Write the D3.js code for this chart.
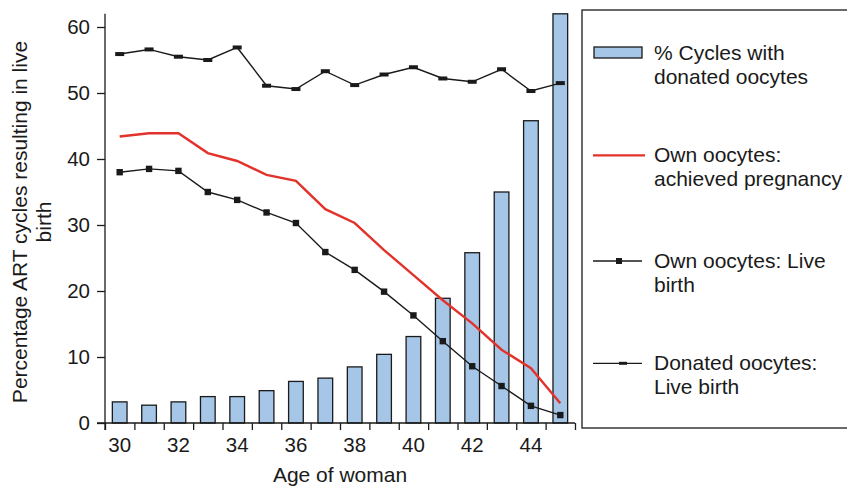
<!DOCTYPE html>
<html>
<head>
<meta charset="utf-8">
<script src="https://cdn.jsdelivr.net/npm/d3@7"></script>
<style>
  html, body { margin: 0; padding: 0; background: #fff; }
  svg { display: block; }
  text { font-family: "Liberation Sans", Arial, sans-serif; fill: #1a1a1a; }
</style>
</head>
<body>
<svg id="chart" width="847" height="487"></svg>
<script>
// ---- Data ----
const ages = [30, 31, 32, 33, 34, 35, 36, 37, 38, 39, 40, 41, 42, 43, 44, 45];
const donatedCyclesPct = [3.2, 2.7, 3.2, 4.0, 4.0, 4.9, 6.3, 6.8, 8.5, 10.4, 13.1, 18.9, 25.8, 35.0, 45.8, 62.0];
const ownPregnancy = [43.4, 43.9, 43.9, 40.9, 39.7, 37.6, 36.7, 32.4, 30.3, 26.2, 22.4, 18.6, 15.1, 11.1, 8.3, 3.0];
const ownLiveBirth = [38.0, 38.5, 38.2, 35.0, 33.8, 31.9, 30.3, 25.9, 23.2, 19.9, 16.3, 12.4, 8.6, 5.6, 2.6, 1.2];
const donatedLiveBirth = [55.9, 56.6, 55.5, 55.0, 56.9, 51.1, 50.6, 53.3, 51.2, 52.8, 53.9, 52.2, 51.7, 53.6, 50.3, 51.5];
const yTicks = [0, 10, 20, 30, 40, 50, 60];
const xTickLabels = [30, 32, 34, 36, 38, 40, 42, 44];
const legendItems = [
  { type: "bar", lines: ["% Cycles with", "donated oocytes"] },
  { type: "red", lines: ["Own oocytes:", "achieved pregnancy"] },
  { type: "square", lines: ["Own oocytes: Live", "birth"] },
  { type: "dash", lines: ["Donated oocytes:", "Live birth"] }
];
const yTitle = ["Percentage ART cycles resulting in live", "birth"];
const xTitle = "Age of woman";

// ---- Layout ----
const svg = d3.select("#chart");
const FS = "21px", TFS = "20.5px";
const left = 105, right = 575, bottom = 423;
const barColor = "#a6c6e8", redColor = "#e3322b", ink = "#1a1a1a";

const x = d3.scaleBand().domain(ages).range([left, right]).paddingInner(0.5).paddingOuter(0.25);
const xEdge = d3.scaleLinear().domain([29.5, 45.5]).range([left, right]);
const y = d3.scaleLinear().domain([0, 62]).range([bottom, bottom - 62 * 6.6]);
const cx = a => x(a) + x.bandwidth() / 2;

// Bars
svg.append("g").selectAll("rect").data(ages).join("rect")
  .attr("x", a => x(a)).attr("width", x.bandwidth())
  .attr("y", (a, i) => y(donatedCyclesPct[i]))
  .attr("height", (a, i) => y(0) - y(donatedCyclesPct[i]))
  .attr("fill", barColor).attr("stroke", ink).attr("stroke-width", 1.3);

const line = d3.line().x(d => cx(d[0])).y(d => y(d[1]));

// Donated live birth
const dData = ages.map((a, i) => [a, donatedLiveBirth[i]]);
svg.append("path").attr("d", line(dData)).attr("fill", "none").attr("stroke", ink).attr("stroke-width", 1.4);
svg.append("g").selectAll("rect").data(dData).join("rect")
  .attr("x", d => cx(d[0]) - 4.5).attr("y", d => y(d[1]) - 2)
  .attr("width", 9).attr("height", 4).attr("fill", ink);

// Red line
const rData = ages.map((a, i) => [a, ownPregnancy[i]]);
svg.append("path").attr("d", line(rData)).attr("fill", "none").attr("stroke", redColor).attr("stroke-width", 2.4);

// Own live birth
const oData = ages.map((a, i) => [a, ownLiveBirth[i]]);
svg.append("path").attr("d", line(oData)).attr("fill", "none").attr("stroke", ink).attr("stroke-width", 1.4);
svg.append("g").selectAll("rect").data(oData).join("rect")
  .attr("x", d => cx(d[0]) - 3.2).attr("y", d => y(d[1]) - 3.2)
  .attr("width", 6.4).attr("height", 6.4).attr("fill", ink);

// Axes
const yAxis = svg.append("g").attr("transform", `translate(${left},0)`)
  .call(d3.axisLeft(y).tickValues(yTicks).tickSize(8).tickPadding(7));
yAxis.select(".domain").remove();
yAxis.selectAll("line").attr("stroke", ink).attr("stroke-width", 1.3);
yAxis.selectAll("text").style("font-size", TFS).style("font-family", "Liberation Sans, Arial, sans-serif").attr("fill", ink);

const xTicksG = svg.append("g").attr("transform", `translate(0,${bottom})`)
  .call(d3.axisBottom(xEdge).tickValues(d3.range(29.5, 45.6, 1)).tickSize(7).tickFormat(""));
xTicksG.select(".domain").remove();
xTicksG.selectAll("line").attr("stroke", ink).attr("stroke-width", 1.3);

const xLab = svg.append("g").attr("transform", `translate(0,${bottom})`)
  .call(d3.axisBottom(x).tickValues(xTickLabels).tickSize(0).tickPadding(14));
xLab.select(".domain").remove();
xLab.selectAll("text").style("font-size", TFS).style("font-family", "Liberation Sans, Arial, sans-serif").attr("fill", ink);

svg.append("line").attr("x1", left).attr("x2", left).attr("y1", y(62)).attr("y2", bottom + 7)
  .attr("stroke", ink).attr("stroke-width", 1.3);
svg.append("line").attr("x1", left - 8).attr("x2", right).attr("y1", bottom).attr("y2", bottom)
  .attr("stroke", ink).attr("stroke-width", 1.3);

// Axis titles
svg.append("text").attr("x", (left + right) / 2).attr("y", 482).attr("text-anchor", "middle")
  .style("font-size", FS).text(xTitle);
const yt = svg.append("text").attr("transform", "translate(27,222) rotate(-90)").attr("text-anchor", "middle")
  .style("font-size", FS);
yTitle.forEach((t, i) => yt.append("tspan").attr("x", 0).attr("dy", i === 0 ? 0 : 23.5).text(t));

// Legend
const lg = svg.append("g");
lg.append("rect").attr("x", 582).attr("y", 10).attr("width", 300).attr("height", 418)
  .attr("fill", "none").attr("stroke", ink).attr("stroke-width", 1.3);
const legY = [52.5, 155.3, 261, 363.3];
legendItems.forEach((it, i) => {
  const g = lg.append("g").attr("transform", `translate(0,${legY[i]})`);
  if (it.type === "bar") {
    g.append("rect").attr("x", 594).attr("y", -5.5).attr("width", 48).attr("height", 11)
      .attr("fill", barColor).attr("stroke", ink).attr("stroke-width", 1.3);
  } else if (it.type === "red") {
    g.append("line").attr("x1", 593).attr("x2", 645).attr("y1", 0).attr("y2", 0)
      .attr("stroke", redColor).attr("stroke-width", 2.2);
  } else {
    g.append("line").attr("x1", 593).attr("x2", 642).attr("y1", 0).attr("y2", 0)
      .attr("stroke", ink).attr("stroke-width", 1.3);
    if (it.type === "square") g.append("rect").attr("x", 616).attr("y", -3).attr("width", 6).attr("height", 6).attr("fill", ink);
    else g.append("rect").attr("x", 619).attr("y", -1.5).attr("width", 8).attr("height", 3).attr("fill", ink);
  }
  const t = g.append("text").attr("x", 654).attr("y", 7).style("font-size", FS);
  it.lines.forEach((l, j) => t.append("tspan").attr("x", 654).attr("dy", j === 0 ? 0 : 24).text(l));
});
</script>
</body>
</html>
